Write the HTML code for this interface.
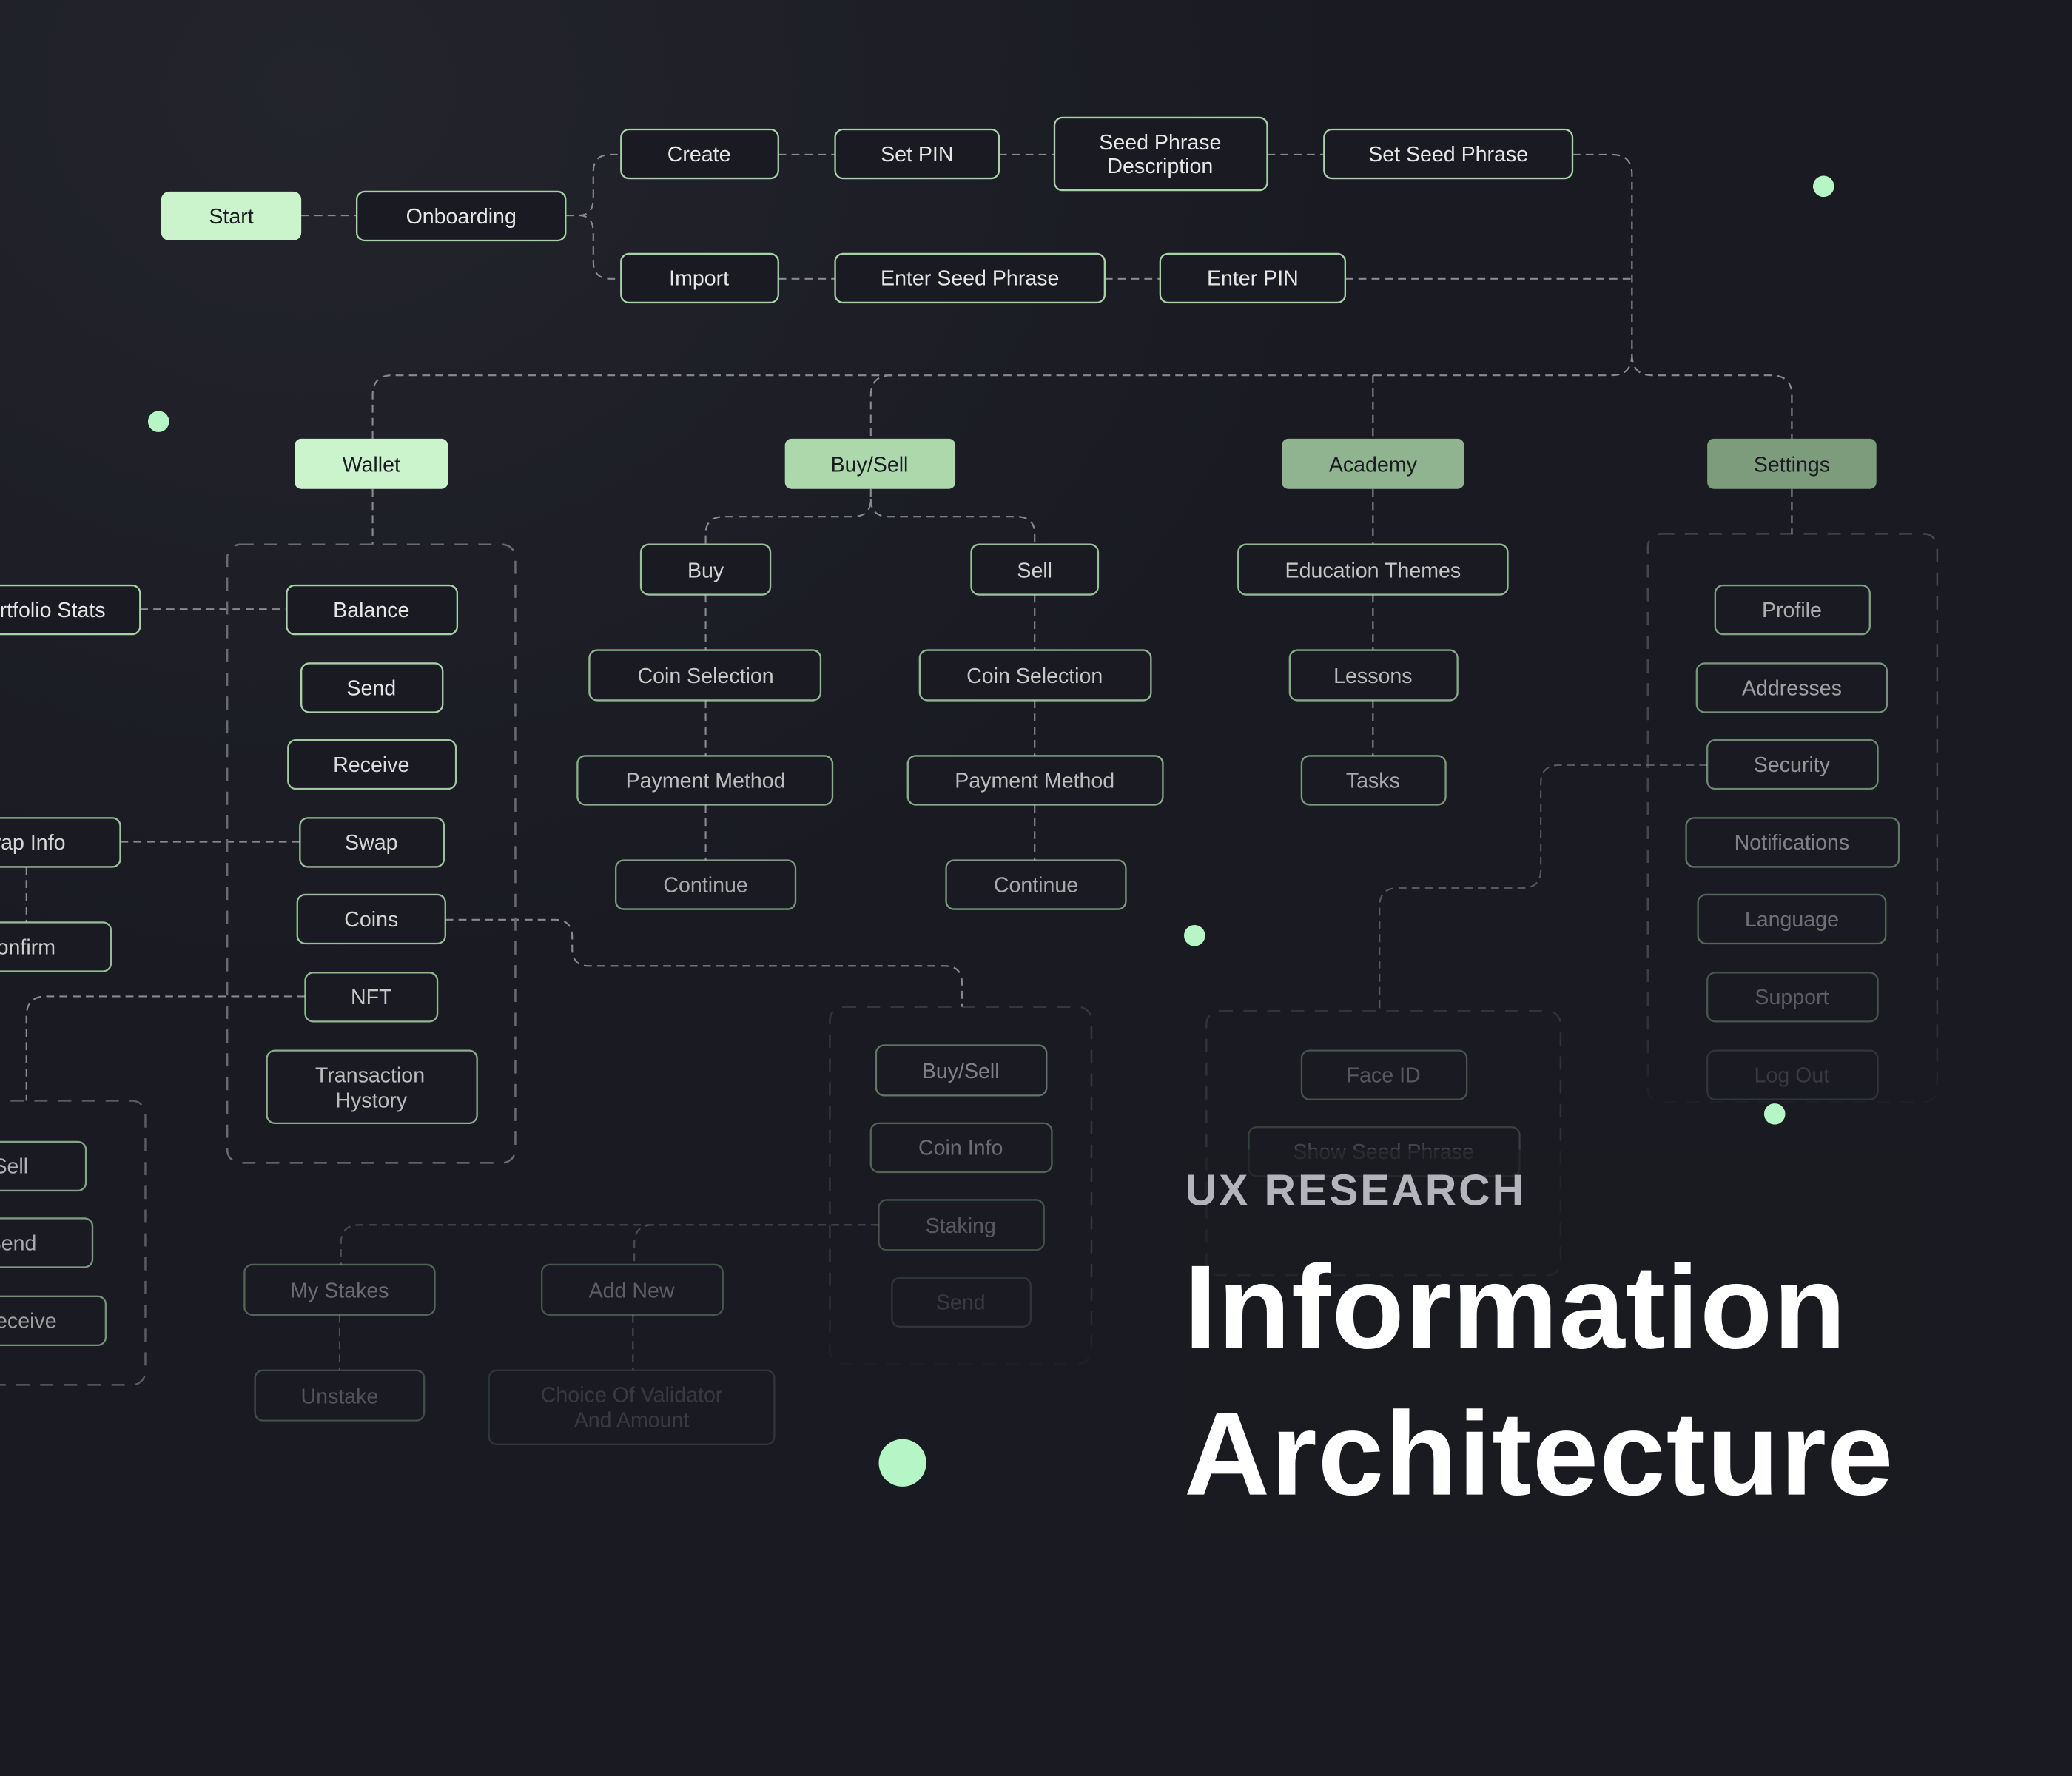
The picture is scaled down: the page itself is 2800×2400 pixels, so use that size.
<!DOCTYPE html>
<html><head><meta charset="utf-8"><style>
html,body{margin:0;padding:0;background:#1a1b22;}
svg{display:block}
text{font-family:"Liberation Sans",sans-serif;}
.n rect{fill:#1a1b22;stroke:#a6d2a6;stroke-width:1.3}
.n text{fill:#e6e6e6;font-size:16px;text-anchor:middle}
.c{fill:none;stroke:#8a8a8e;stroke-width:1.2;stroke-dasharray:6 4}
.g{fill:none;stroke:#6a6a70;stroke-width:1.4;stroke-dasharray:10 8}
.d{fill:#b6f5c6}
</style></head><body>
<svg width="2800" height="2400" viewBox="0 0 1568 1344" xmlns="http://www.w3.org/2000/svg">
<defs><radialGradient id="bg" cx="0.15" cy="0.05" r="0.5"><stop offset="0" stop-color="#23242c"/><stop offset="1" stop-color="#1a1b22"/></radialGradient>
<linearGradient id="fade" x1="0" y1="0" x2="0" y2="1"><stop offset="0" stop-color="#fff"/><stop offset="0.7" stop-color="#fff"/><stop offset="1" stop-color="#000"/></linearGradient>
<mask id="m1" maskUnits="userSpaceOnUse" x="1200" y="390" width="300" height="460"><rect x="1200" y="390" width="300" height="460" fill="url(#fade)"/></mask>
<mask id="m2" maskUnits="userSpaceOnUse" x="600" y="750" width="250" height="300"><rect x="600" y="750" width="250" height="300" fill="url(#fade)"/></mask>
</defs>
<rect width="1568" height="1344" fill="url(#bg)"/>

<g class="c">
<path d="M228 163H270"/>
<path d="M428 163H438Q449 163 449 150V130Q449 117 462 117H470M438 163Q449 163 449 176V198Q449 211 462 211H470"/>
<path d="M589 117H632M756 117H798M959 117H1002"/>
<path d="M1190 117H1220Q1235 117 1235 132V268Q1235 284 1220 284H297Q282 284 282 299V332"/>
<path d="M1235 268Q1235 284 1250 284H1340Q1356 284 1356 299V332"/>
<path d="M675 284Q659 284 659 299V332M1039 284V332"/>
<path d="M589 211H632M836 211H878M1018 211H1235"/>
<path d="M282 370V412M1356 370V404"/>
<path d="M659 370V378Q659 391 645 391H548Q534 391 534 404V412M659 378Q659 391 673 391H769Q783 391 783 404V412"/>
<path d="M534 450V492M534 530V572M534 609V651M783 450V492M783 530V572M783 609V651"/>
<path d="M1039 370V412M1039 450V492M1039 530V572"/>
<path d="M106 461H217M91 637H227M20 656V698"/>
<path d="M231 754H35Q20 754 20 769V833"/>
<path d="M337 696H420Q433 696 433 709V718Q433 731 446 731H715Q728 731 728 744V762"/>
</g>
<g class="c" opacity="0.55">
<path d="M1292 579H1180Q1166 579 1166 593V658Q1166 672 1152 672H1058Q1044 672 1044 686V765"/>
</g>
<g class="c" opacity="0.45">
<path d="M665 927H272Q258 927 258 941V957M494 927Q480 927 480 941V957M257 995V1037M479 995V1037"/>
</g>

<rect class="g" x="172" y="412" width="218" height="468" rx="10"/>
<rect class="g" x="-20" y="833" width="130" height="215" rx="10" opacity="0.8"/>
<rect class="g" x="1247" y="404" width="219" height="430" rx="10" opacity="0.55" mask="url(#m1)"/>
<rect class="g" x="628" y="762" width="198" height="270" rx="10" opacity="0.35" mask="url(#m2)"/>
<rect class="g" x="913" y="765" width="268" height="200" rx="10" opacity="0.3"/>

<rect x="122" y="145" width="106" height="37" rx="6" fill="#ccf4cc"/>
<text x="175" y="169" font-size="16" text-anchor="middle" fill="#1a1b22">Start</text>
<g class="n"><rect x="270" y="145" width="158" height="37" rx="6"/><text x="349" y="169">Onboarding</text></g>
<g class="n"><rect x="470" y="98" width="119" height="37" rx="6"/><text x="529" y="122">Create</text></g>
<g class="n"><rect x="632" y="98" width="124" height="37" rx="6"/><text x="694" y="122">Set PIN</text></g>
<g class="n"><rect x="798" y="89" width="161" height="55" rx="6"/><text x="878" y="113">Seed Phrase</text><text x="878" y="131">Description</text></g>
<g class="n"><rect x="1002" y="98" width="188" height="37" rx="6"/><text x="1096" y="122">Set Seed Phrase</text></g>
<g class="n"><rect x="470" y="192" width="119" height="37" rx="6"/><text x="529" y="216">Import</text></g>
<g class="n"><rect x="632" y="192" width="204" height="37" rx="6"/><text x="734" y="216">Enter Seed Phrase</text></g>
<g class="n"><rect x="878" y="192" width="140" height="37" rx="6"/><text x="948" y="216">Enter PIN</text></g>

<rect x="223" y="332" width="116" height="38" rx="5" fill="#ccf4cc"/><text x="281" y="357" font-size="16" text-anchor="middle" fill="#1a1b22">Wallet</text>
<rect x="594" y="332" width="129" height="38" rx="5" fill="#acd8ac"/><text x="658" y="357" font-size="16" text-anchor="middle" fill="#1a1b22">Buy/Sell</text>
<rect x="970" y="332" width="138" height="38" rx="5" fill="#8fb48f"/><text x="1039" y="357" font-size="16" text-anchor="middle" fill="#1a1b22">Academy</text>
<rect x="1292" y="332" width="128" height="38" rx="5" fill="#7c9c7c"/><text x="1356" y="357" font-size="16" text-anchor="middle" fill="#1a1b22">Settings</text>

<g class="n"><rect x="217" y="443" width="129" height="37" rx="6"/><text x="281" y="467">Balance</text></g>
<g class="n"><rect x="228" y="502" width="107" height="37" rx="6"/><text x="281" y="526">Send</text></g>
<g class="n" opacity="0.95"><rect x="218" y="560" width="127" height="37" rx="6"/><text x="281" y="584">Receive</text></g>
<g class="n" opacity="0.92"><rect x="227" y="619" width="109" height="37" rx="6"/><text x="281" y="643">Swap</text></g>
<g class="n" opacity="0.9"><rect x="225" y="677" width="112" height="37" rx="6"/><text x="281" y="701">Coins</text></g>
<g class="n" opacity="0.85"><rect x="231" y="736" width="100" height="37" rx="6"/><text x="281" y="760">NFT</text></g>
<g class="n" opacity="0.8"><rect x="202" y="795" width="159" height="55" rx="6"/><text x="280" y="819">Transaction</text><text x="281" y="838">Hystory</text></g>

<g class="n"><rect x="-60" y="443" width="166" height="37" rx="6"/><text x="30" y="467">Portfolio Stats</text></g>
<g class="n" opacity="0.92"><rect x="-60" y="619" width="151" height="37" rx="6"/><text x="14" y="643">Swap Info</text></g>
<g class="n" opacity="0.88"><rect x="-60" y="698" width="144" height="37" rx="6"/><text x="14" y="722">Confirm</text></g>
<g class="n" opacity="0.75"><rect x="-60" y="864" width="125" height="37" rx="6"/><text x="8" y="888">Sell</text></g>
<g class="n" opacity="0.7"><rect x="-60" y="922" width="130" height="37" rx="6"/><text x="9" y="946">Send</text></g>
<g class="n" opacity="0.65"><rect x="-60" y="981" width="140" height="37" rx="6"/><text x="14" y="1005">Receive</text></g>

<g class="n" opacity="0.9"><rect x="485" y="412" width="98" height="38" rx="6"/><text x="534" y="437">Buy</text></g>
<g class="n" opacity="0.9"><rect x="735" y="412" width="96" height="38" rx="6"/><text x="783" y="437">Sell</text></g>
<g class="n" opacity="0.85"><rect x="446" y="492" width="175" height="38" rx="6"/><text x="534" y="517">Coin Selection</text></g>
<g class="n" opacity="0.85"><rect x="696" y="492" width="175" height="38" rx="6"/><text x="783" y="517">Coin Selection</text></g>
<g class="n" opacity="0.8"><rect x="437" y="572" width="193" height="37" rx="6"/><text x="534" y="596">Payment Method</text></g>
<g class="n" opacity="0.8"><rect x="687" y="572" width="193" height="37" rx="6"/><text x="783" y="596">Payment Method</text></g>
<g class="n" opacity="0.7"><rect x="466" y="651" width="136" height="37" rx="6"/><text x="534" y="675">Continue</text></g>
<g class="n" opacity="0.7"><rect x="716" y="651" width="136" height="37" rx="6"/><text x="784" y="675">Continue</text></g>

<g class="n" opacity="0.85"><rect x="937" y="412" width="204" height="38" rx="6"/><text x="1039" y="437">Education Themes</text></g>
<g class="n" opacity="0.78"><rect x="976" y="492" width="127" height="38" rx="6"/><text x="1039" y="517">Lessons</text></g>
<g class="n" opacity="0.7"><rect x="985" y="572" width="109" height="37" rx="6"/><text x="1039" y="596">Tasks</text></g>

<g class="n" opacity="0.72"><rect x="1298" y="443" width="117" height="37" rx="6"/><text x="1356" y="467">Profile</text></g>
<g class="n" opacity="0.66"><rect x="1284" y="502" width="144" height="37" rx="6"/><text x="1356" y="526">Addresses</text></g>
<g class="n" opacity="0.6"><rect x="1292" y="560" width="129" height="37" rx="6"/><text x="1356" y="584">Security</text></g>
<g class="n" opacity="0.5"><rect x="1276" y="619" width="161" height="37" rx="6"/><text x="1356" y="643">Notifications</text></g>
<g class="n" opacity="0.42"><rect x="1285" y="677" width="142" height="37" rx="6"/><text x="1356" y="701">Language</text></g>
<g class="n" opacity="0.32"><rect x="1292" y="736" width="129" height="37" rx="6"/><text x="1356" y="760">Support</text></g>
<g class="n" opacity="0.15"><rect x="1292" y="795" width="129" height="37" rx="6"/><text x="1356" y="819">Log Out</text></g>

<g class="n" opacity="0.3"><rect x="985" y="795" width="125" height="37" rx="6"/><text x="1047" y="819">Face ID</text></g>
<g class="n" opacity="0.2"><rect x="945" y="853" width="205" height="37" rx="6"/><text x="1047" y="877">Show Seed Phrase</text></g>

<g class="n" opacity="0.5"><rect x="663" y="791" width="129" height="38" rx="6"/><text x="727" y="816">Buy/Sell</text></g>
<g class="n" opacity="0.4"><rect x="659" y="850" width="137" height="37" rx="6"/><text x="727" y="874">Coin Info</text></g>
<g class="n" opacity="0.3"><rect x="665" y="908" width="125" height="38" rx="6"/><text x="727" y="933">Staking</text></g>
<g class="n" opacity="0.15"><rect x="675" y="967" width="105" height="37" rx="6"/><text x="727" y="991">Send</text></g>

<g class="n" opacity="0.4"><rect x="185" y="957" width="144" height="38" rx="6"/><text x="257" y="982">My Stakes</text></g>
<g class="n" opacity="0.32"><rect x="410" y="957" width="137" height="38" rx="6"/><text x="478" y="982">Add New</text></g>
<g class="n" opacity="0.28"><rect x="193" y="1037" width="128" height="38" rx="6"/><text x="257" y="1062">Unstake</text></g>
<g class="n" opacity="0.15"><rect x="370" y="1037" width="216" height="56" rx="6"/><text x="478" y="1061">Choice Of Validator</text><text x="478" y="1080">And Amount</text></g>

<circle class="d" cx="1380" cy="141" r="8"/>
<circle class="d" cx="120" cy="319" r="8"/>
<circle class="d" cx="904" cy="708" r="8"/>
<circle class="d" cx="1343" cy="843" r="8"/>
<circle class="d" cx="683" cy="1107" r="18"/>

<rect x="890" y="870" width="560" height="300" fill="#1a1b22" opacity="0.6"/>
<text x="897" y="912" font-size="33" font-weight="bold" fill="#b4b4bc" letter-spacing="1.6">UX RESEARCH</text>
<text x="896" y="1020" font-size="90" font-weight="bold" fill="#ffffff" letter-spacing="0.6">Information</text>
<text x="896" y="1131" font-size="90" font-weight="bold" fill="#ffffff" letter-spacing="0.6">Architecture</text>
</svg>
</body></html>
